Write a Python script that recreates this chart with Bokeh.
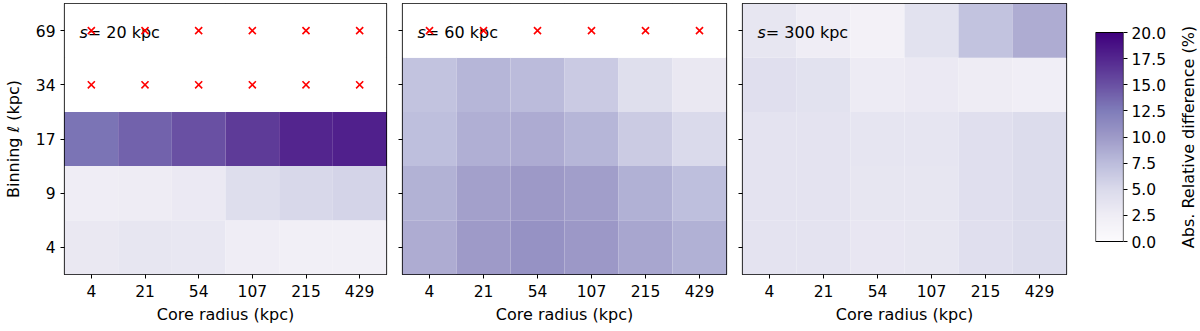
import numpy as np
from bokeh.plotting import figure
from bokeh.models import (LinearColorMapper, FixedTicker, ColumnDataSource,
                          NumeralTickFormatter, Range1d)
from bokeh.layouts import row
from bokeh.palettes import Purples256
from bokeh.core.properties import value
from bokeh.embed import file_html
from bokeh.resources import INLINE

# ---------------- data ----------------
core_radius = ["4", "21", "54", "107", "215", "429"]   # x categories (kpc)
binning = ["4", "9", "17", "34", "69"]                 # y categories (kpc), bottom -> top
nan = float("nan")

# rows bottom -> top (binning 4, 9, 17, 34, 69); columns = core radius
s20_values = [
    [3.2, 3.5, 3.3, 2.5, 2.2, 2.2],
    [2.5, 2.7, 3.0, 4.5, 5.2, 5.5],
    [13.0, 14.0, 15.0, 16.3, 17.6, 17.9],
    [nan, nan, nan, nan, nan, nan],
    [nan, nan, nan, nan, nan, nan],
]
s60_values = [
    [8.7, 10.0, 10.7, 10.2, 9.2, 8.4],
    [8.3, 9.6, 10.1, 9.7, 8.4, 7.3],
    [7.3, 8.5, 8.8, 8.0, 6.3, 5.0],
    [7.0, 8.0, 7.6, 6.4, 4.4, 3.2],
    [nan, nan, nan, nan, nan, nan],
]
s300_values = [
    [3.9, 3.8, 3.4, 3.5, 4.3, 4.8],
    [3.8, 3.8, 3.5, 3.5, 4.3, 4.8],
    [3.8, 3.8, 3.6, 3.6, 4.3, 4.8],
    [4.3, 4.0, 2.8, 3.0, 2.7, 2.3],
    [3.5, 2.5, 1.8, 4.0, 7.0, 8.7],
]
panel_titles = ["20", "60", "300"]
cbar_ticks = [0.0, 2.5, 5.0, 7.5, 10.0, 12.5, 15.0, 17.5, 20.0]
cbar_label = "Abs. Relative difference (%)"
vmin, vmax = 0.0, 20.0

FONT = "DejaVu Sans"
TICK_SIZE = "15.5px"
LABEL_SIZE = "16px"

BORDER_T = 3
FRAME_H = 271
BORDER_B = 57
H = BORDER_T + FRAME_H + BORDER_B

mapper = LinearColorMapper(palette=list(reversed(Purples256)), low=vmin, high=vmax,
                           nan_color="white")


def style_axis(ax):
    ax.major_label_text_font = FONT
    ax.major_label_text_font_size = TICK_SIZE
    ax.major_label_text_color = "black"
    ax.axis_label_text_font = FONT
    ax.axis_label_text_font_size = LABEL_SIZE
    ax.axis_label_text_font_style = "normal"
    ax.axis_label_text_color = "black"
    ax.major_tick_in = 0
    ax.major_tick_out = 4
    ax.major_tick_line_color = "black"
    ax.minor_tick_line_color = None
    ax.axis_line_color = None


def make_panel(values, title, first):
    xs, ys, vs, nx, ny = [], [], [], [], []
    for j, rowvals in enumerate(values):
        for i, v in enumerate(rowvals):
            xs.append(i)
            ys.append(j)
            vs.append(v)
            if np.isnan(v):
                nx.append(i)
                ny.append(j)
    src = ColumnDataSource(dict(x=xs, y=ys, v=vs))
    bl = 62 if first else 8
    p = figure(width=bl + 324 + 8, height=H,
               min_border_left=bl, min_border_right=8,
               min_border_top=BORDER_T, min_border_bottom=BORDER_B,
               title_location=None,
               x_range=Range1d(-0.5, len(core_radius) - 0.5),
               y_range=Range1d(-0.5, len(binning) - 0.5),
               output_backend="svg", toolbar_location=None)
    p.grid.visible = False
    p.outline_line_color = "black"
    p.outline_line_width = 1.2
    p.outline_line_alpha = 1
    p.background_fill_color = "white"
    p.rect(x="x", y="y", width=1, height=1, source=src,
           fill_color={"field": "v", "transform": mapper}, line_color=None)
    # panel annotation: italic s, then " = N kpc"
    tx = -0.5 + 15 / 54.0
    ty = len(binning) - 0.5 - 29 / (FRAME_H / 5.0)
    p.text(x=[tx], y=[ty], text=["s"], text_font=value(FONT), text_font_style="italic",
           text_font_size="16px", text_color="black", text_baseline="alphabetic")
    p.text(x=[tx], y=[ty], text=[" = %s kpc" % title], x_offset=8.3, text_font=value(FONT),
           text_font_size="16px", text_color="black", text_baseline="alphabetic")
    if nx:
        p.scatter(x=nx, y=ny, marker="x", size=10, line_color="red", line_width=1.6)

    p.xaxis.ticker = FixedTicker(ticks=list(range(len(core_radius))))
    p.xaxis.major_label_overrides = {i: c for i, c in enumerate(core_radius)}
    p.xaxis.axis_label = "Core radius (kpc)"
    p.yaxis.ticker = FixedTicker(ticks=list(range(len(binning))))
    style_axis(p.xaxis[0])
    style_axis(p.yaxis[0])
    p.xaxis.axis_label_standoff = 5
    p.xaxis.major_label_standoff = 6
    if first:
        p.yaxis.major_label_overrides = {j: b for j, b in enumerate(binning)}
        p.yaxis.axis_label = "Binning \u2113 (kpc)"
        p.yaxis.major_label_standoff = 5
        p.yaxis.axis_label_standoff = 10
    else:
        p.yaxis.major_label_overrides = {j: "" for j in range(len(binning))}
        p.yaxis.major_label_standoff = 0
    return p


p1 = make_panel(s20_values, panel_titles[0], True)
p2 = make_panel(s60_values, panel_titles[1], False)
p3 = make_panel(s300_values, panel_titles[2], False)

# colorbar as its own small figure; frame spans the same height as the panels,
# the bar itself occupies vmin..vmax (page pixels 32..241)
bar_top_px, bar_bot_px = 32 - BORDER_T, 241 - BORDER_T   # relative to frame top
scale = (vmax - vmin) / (bar_bot_px - bar_top_px)
y_hi = vmax + bar_top_px * scale
y_lo = vmin - (FRAME_H - bar_bot_px) * scale
cb = figure(width=21 + 28 + 55, height=H, min_border_left=21, min_border_right=55,
            min_border_top=BORDER_T, min_border_bottom=BORDER_B, title_location=None,
            x_range=Range1d(0, 1), y_range=Range1d(y_lo, y_hi),
            y_axis_location="right", output_backend="svg", toolbar_location=None)
cb.grid.visible = False
cb.xaxis.visible = False
cb.outline_line_color = None
grad = np.linspace(vmin, vmax, 256).reshape(256, 1)
cb.image(image=[grad], x=0, y=vmin, dw=1, dh=vmax - vmin, color_mapper=mapper)
cb.rect(x=[0.5], y=[(vmin + vmax) / 2], width=1, height=vmax - vmin,
        fill_color=None, line_color="black", line_width=1.2)
cb.yaxis.ticker = FixedTicker(ticks=cbar_ticks)
cb.yaxis.formatter = NumeralTickFormatter(format="0.0")
style_axis(cb.yaxis[0])
cb.yaxis.major_label_standoff = 4

# colorbar title, reading bottom-to-top, in a narrow strip to the right
lab = figure(width=22, height=H, min_border_left=0, min_border_right=0,
             min_border_top=BORDER_T, min_border_bottom=BORDER_B, title_location=None,
             x_range=Range1d(0, 1), y_range=Range1d(y_lo, y_hi),
             output_backend="svg", toolbar_location=None)
lab.axis.visible = False
lab.grid.visible = False
lab.outline_line_color = None
lab.text(x=[0.45], y=[(vmin + vmax) / 2], text=[cbar_label], angle=np.pi / 2,
         text_align="center", text_baseline="middle", text_font=value(FONT),
         text_font_size=LABEL_SIZE, text_color="black")

layout = row(p1, p2, p3, cb, lab)
open("out.html", "w").write(file_html(layout, INLINE))
